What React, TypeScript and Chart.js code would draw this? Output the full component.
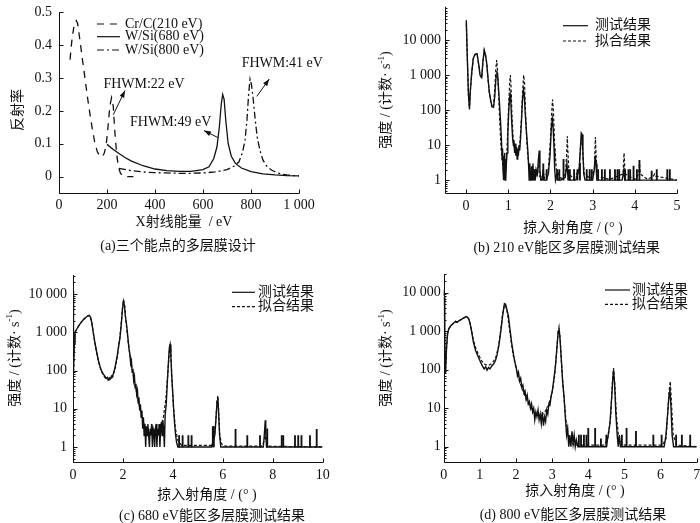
import React, { useEffect, useRef } from "react";
import { Chart, registerables } from "chart.js";

Chart.register(...registerables);

const FONT = "'Liberation Serif', 'Times New Roman', 'Noto Sans CJK SC', serif";
const INK = "#111";

type Pt = [number, number];

// ---------- (a) design: energy (eV) vs reflectivity ----------
const crcCurve: Pt[] = [
  [46, 0.356], [53, 0.41], [60, 0.447], [66, 0.468], [72, 0.475], [78, 0.465], [87, 0.416],
  [97, 0.36], [108, 0.3], [118, 0.245], [129, 0.19], [140, 0.14], [150, 0.1], [160, 0.075],
  [171, 0.062], [180, 0.06], [188, 0.07], [196, 0.092], [204, 0.15], [212, 0.215], [219, 0.24],
  [226, 0.215], [233, 0.133], [240, 0.07], [247, 0.031], [256, 0.01], [266, 0.002], [282, 0], [310, 0],
];
const wsi680Curve: Pt[] = [
  [200, 0.098], [225, 0.083], [250, 0.07], [275, 0.058], [300, 0.048], [350, 0.033], [400, 0.023],
  [450, 0.018], [500, 0.016], [550, 0.016], [600, 0.021], [625, 0.03], [645, 0.055], [658, 0.09],
  [668, 0.15], [676, 0.22], [682, 0.25], [688, 0.235], [695, 0.17], [705, 0.1], [718, 0.062],
  [735, 0.04], [760, 0.026], [800, 0.015], [850, 0.008], [900, 0.005], [950, 0.003], [1000, 0.002],
];
const wsi800Curve: Pt[] = [
  [250, 0.025], [300, 0.018], [350, 0.014], [400, 0.012], [450, 0.011], [500, 0.01], [550, 0.01],
  [600, 0.011], [650, 0.014], [700, 0.021], [730, 0.032], [750, 0.045], [765, 0.075], [775, 0.11],
  [783, 0.17], [790, 0.25], [796, 0.297], [802, 0.28], [810, 0.23], [818, 0.17], [826, 0.12],
  [837, 0.08], [850, 0.05], [865, 0.032], [885, 0.02], [907, 0.012], [930, 0.007], [950, 0.005],
  [975, 0.003], [1000, 0.002],
];
const aTicksX = [0, 200, 400, 600, 800, 1000];
const aTicksY = [0, 0.1, 0.2, 0.3, 0.4, 0.5];
const aLegend = ["Cr/C(210 eV)", "W/Si(680 eV)", "W/Si(800 eV)"];
const aNotes = [
  { text: "FHWM:22 eV", at: [185, 0.28], from: [226, 0.188], to: [275, 0.262] },
  { text: "FHWM:49 eV", at: [296, 0.165], from: [664, 0.118], to: [604, 0.14] },
  { text: "FHWM:41 eV", at: [761, 0.346], from: [824, 0.244], to: [876, 0.297] },
];

// ---------- (b) 210 eV: grazing angle (deg) vs counts/s ----------
const bMeasured: Pt[] = [
  [0.005, 37000], [0.03, 3000], [0.055, 300], [0.08, 112], [0.1, 350], [0.135, 1240], [0.17, 3000],
  [0.21, 3900], [0.26, 4100], [0.3, 2000], [0.33, 1000], [0.37, 850], [0.4, 2500], [0.43, 5200],
  [0.46, 3800], [0.49, 2150], [0.52, 800], [0.55, 330], [0.59, 170], [0.62, 124], [0.65, 120],
  [0.68, 250], [0.71, 900], [0.73, 1300], [0.75, 900], [0.77, 400], [0.79, 170], [0.82, 40],
  [0.84, 12], [0.855, 4], [0.865, 8], [0.875, 2], [0.885, 5], [0.895, 1], [0.905, 3], [0.915, 6],
  [0.925, 1], [0.935, 4], [0.945, 1], [0.955, 3], [0.97, 6], [0.99, 20], [1.01, 90], [1.03, 220],
  [1.045, 290], [1.06, 180], [1.08, 50], [1.1, 18], [1.12, 10], [1.135, 14], [1.15, 6], [1.165, 11],
  [1.18, 5], [1.195, 9], [1.21, 4], [1.225, 8], [1.24, 5], [1.255, 10], [1.27, 7], [1.29, 15],
  [1.31, 40], [1.335, 180], [1.36, 380], [1.38, 260], [1.4, 90], [1.43, 25], [1.46, 8], [1.48, 3],
  [1.495, 1], [1.51, 3], [1.525, 1.5], [1.54, 1], [1.555, 2.5], [1.57, 1], [1.585, 3], [1.6, 1],
  [1.62, 2], [1.64, 1], [1.66, 2], [1.69, 1.5], [1.715, 4], [1.735, 7], [1.75, 2], [1.77, 1],
  [1.8, 1], [1.83, 2], [1.85, 1], [1.9, 1], [1.95, 1.5], [1.99, 5], [2.02, 30], [2.045, 55],
  [2.065, 30], [2.085, 8], [2.1, 2], [2.12, 1], [2.15, 1.5], [2.18, 1], [2.25, 1], [2.35, 1.2],
  [2.39, 3], [2.41, 1.5], [2.45, 1], [2.6, 1], [2.68, 2], [2.71, 8], [2.73, 22], [2.75, 20],
  [2.77, 6], [2.79, 1.5], [2.82, 1], [3.0, 1], [3.04, 2], [3.06, 5], [3.08, 3], [3.1, 1],
  [3.7, 1], [3.74, 2], [3.76, 1], [5.0, 1],
];
const bFitted: Pt[] = [
  [0.005, 30000], [0.03, 2800], [0.055, 280], [0.08, 105], [0.1, 340], [0.135, 1200], [0.17, 2900],
  [0.21, 3800], [0.26, 4000], [0.3, 1950], [0.33, 980], [0.37, 820], [0.4, 2400], [0.43, 5000],
  [0.46, 3700], [0.49, 2100], [0.52, 780], [0.55, 320], [0.59, 160], [0.62, 115], [0.65, 130],
  [0.68, 400], [0.705, 1500], [0.725, 2700], [0.745, 1400], [0.77, 300], [0.8, 40], [0.83, 8],
  [0.87, 2.5], [0.91, 1.5], [0.95, 2.5], [0.98, 15], [1.01, 150], [1.035, 700], [1.05, 1000],
  [1.065, 500], [1.09, 60], [1.12, 12], [1.16, 6], [1.22, 5], [1.27, 9], [1.31, 50], [1.34, 350],
  [1.365, 1000], [1.385, 600], [1.41, 80], [1.44, 12], [1.48, 3], [1.55, 1.3], [1.65, 1.2],
  [1.72, 2.5], [1.74, 1.3], [1.85, 1.1], [1.95, 2], [2.0, 15], [2.03, 90], [2.05, 200], [2.07, 90],
  [2.1, 10], [2.14, 2], [2.25, 1.1], [2.36, 1.5], [2.39, 8], [2.4, 18], [2.41, 8], [2.44, 1.5],
  [2.55, 1.1], [2.68, 2], [2.72, 12], [2.745, 15], [2.77, 5], [2.8, 1.5], [2.95, 1.1], [3.04, 2],
  [3.065, 17], [3.08, 6], [3.11, 1.3], [3.4, 1.05], [3.72, 1.5], [3.745, 6], [3.77, 1.5],
  [4.0, 1.05], [4.09, 1.5], [4.11, 3], [4.13, 1.5], [4.3, 1.05], [4.44, 1.3], [4.47, 1.5],
  [4.5, 1.3], [5.0, 1],
];
const bSpikeX = [1.63, 1.83, 1.91, 2.16, 2.21, 2.31, 2.42, 2.46, 2.56, 2.64, 2.7, 2.86, 2.93, 2.98,
  3.13, 3.22, 3.29, 3.41, 3.53, 3.59, 3.63, 3.77, 3.85, 3.89, 3.97, 4.05, 4.11, 4.4, 4.52, 4.77, 4.83];
const bSpikeY = [2, 2.9, 2, 2, 2, 3.9, 2, 2, 2, 2, 3, 2, 2, 2, 2, 2, 2, 2, 2, 2, 2, 2, 2, 2, 2.5, 2,
  3.7, 1.8, 2, 2, 2];
const bTicksX = [0, 1, 2, 3, 4, 5];

// ---------- (c) 680 eV ----------
const cMeasured: Pt[] = [
  [0, 12000], [0.01, 2000], [0.02, 150], [0.03, 100], [0.05, 500], [0.08, 1000], [0.15, 1200],
  [0.22, 1450], [0.28, 1650], [0.35, 1900], [0.42, 2150], [0.5, 2400], [0.58, 2650], [0.65, 2750],
  [0.7, 2500], [0.75, 1850], [0.8, 1100], [0.88, 520], [0.95, 300], [1.01, 190], [1.08, 130],
  [1.15, 95], [1.21, 82], [1.28, 70], [1.33, 62], [1.38, 66], [1.42, 58], [1.46, 64], [1.5, 60],
  [1.54, 72], [1.58, 68], [1.62, 85], [1.67, 110], [1.72, 160], [1.77, 240], [1.82, 400],
  [1.88, 700], [1.93, 1500], [1.98, 4000], [2.02, 6500], [2.06, 5000], [2.1, 2500], [2.15, 1500],
  [2.2, 700], [2.24, 380], [2.28, 260], [2.31, 150], [2.34, 180], [2.37, 90], [2.4, 110],
  [2.43, 55], [2.46, 70], [2.49, 35], [2.52, 45], [2.55, 24], [2.58, 30], [2.61, 14], [2.64, 20],
  [2.67, 9], [2.7, 13], [2.73, 6], [2.76, 9], [2.79, 3], [2.82, 6], [2.85, 2], [2.88, 4], [2.91, 1],
  [2.94, 3.5], [2.97, 2], [3.0, 4], [3.03, 2], [3.06, 1], [3.09, 3], [3.12, 2], [3.15, 4],
  [3.18, 1], [3.21, 3], [3.24, 2.5], [3.27, 1], [3.3, 3], [3.33, 4], [3.36, 1], [3.39, 3],
  [3.42, 2], [3.45, 4], [3.48, 1], [3.51, 3], [3.54, 4.5], [3.57, 2], [3.6, 5], [3.63, 3],
  [3.66, 1], [3.69, 7], [3.73, 12], [3.77, 40], [3.81, 120], [3.86, 400], [3.89, 480], [3.92, 250],
  [3.95, 80], [3.99, 30], [4.03, 10], [4.07, 4], [4.11, 2], [4.15, 1.3], [4.2, 1], [5.55, 1],
  [5.62, 1.5], [5.68, 2], [5.73, 6], [5.77, 16], [5.8, 20], [5.83, 8], [5.87, 2], [5.92, 1],
  [7.62, 1], [7.66, 2], [7.7, 5], [7.72, 2.5], [7.75, 1], [9.99, 1],
];
const cFitted: Pt[] = [
  [0, 10000], [0.01, 1500], [0.02, 140], [0.03, 100], [0.05, 480], [0.08, 980], [0.15, 1200],
  [0.22, 1450], [0.28, 1650], [0.35, 1900], [0.42, 2150], [0.5, 2400], [0.58, 2650], [0.65, 2750],
  [0.7, 2500], [0.75, 1850], [0.8, 1100], [0.88, 520], [0.95, 290], [1.01, 180], [1.1, 110],
  [1.2, 78], [1.3, 62], [1.4, 56], [1.5, 58], [1.6, 72], [1.7, 120], [1.8, 300], [1.88, 800],
  [1.94, 2000], [1.99, 5000], [2.03, 7000], [2.07, 5000], [2.11, 2300], [2.16, 1100], [2.22, 500],
  [2.3, 200], [2.4, 85], [2.5, 38], [2.6, 18], [2.7, 9], [2.8, 5], [2.9, 3.2], [3.05, 2.4],
  [3.2, 2.2], [3.35, 2.4], [3.5, 3.2], [3.62, 6], [3.72, 18], [3.8, 90], [3.86, 350], [3.89, 500],
  [3.92, 300], [3.96, 60], [4.02, 12], [4.1, 3], [4.2, 1.5], [4.35, 1.1], [5.55, 1.1], [5.65, 1.6],
  [5.72, 5], [5.77, 16], [5.8, 22], [5.83, 10], [5.88, 2], [5.95, 1.2], [6.1, 1.05], [7.55, 1.05],
  [7.65, 1.4], [7.7, 2], [7.75, 1.3], [7.85, 1.05], [10, 1],
];
const cSpikeX = [4.25, 4.39, 4.62, 4.75, 5.6, 5.64, 6.51, 6.98, 7.49, 7.78, 8.36, 8.42, 8.89, 9.02,
  9.15, 9.49, 9.76];
const cSpikeY = [2, 2, 2, 2, 3.4, 3.4, 2.9, 2, 2, 3, 2, 2, 2, 2, 2, 2, 2.9];
const cTicksX = [0, 2, 4, 6, 8, 10];

// ---------- (d) 800 eV ----------
const dMeasured: Pt[] = [
  [0, 12000], [0.015, 8000], [0.03, 300], [0.05, 85], [0.08, 400], [0.11, 900], [0.14, 1150],
  [0.2, 1400], [0.27, 1600], [0.33, 1800], [0.37, 1700], [0.42, 1850], [0.5, 2050], [0.57, 2250],
  [0.64, 2400], [0.69, 2100], [0.73, 1600], [0.78, 900], [0.82, 530], [0.88, 320], [0.96, 210],
  [1.03, 150], [1.08, 120], [1.12, 105], [1.16, 120], [1.2, 98], [1.24, 115], [1.28, 105],
  [1.33, 125], [1.38, 140], [1.43, 170], [1.48, 250], [1.53, 450], [1.58, 1000], [1.63, 2500],
  [1.68, 5200], [1.71, 5000], [1.75, 3600], [1.79, 2500], [1.84, 1000], [1.88, 500], [1.93, 250],
  [1.97, 160], [2.01, 110], [2.04, 70], [2.07, 85], [2.1, 50], [2.13, 60], [2.16, 35], [2.19, 40],
  [2.22, 25], [2.25, 28], [2.28, 17], [2.31, 22], [2.34, 13], [2.37, 15], [2.4, 10], [2.43, 13],
  [2.46, 8], [2.49, 10], [2.52, 5], [2.55, 8], [2.58, 6], [2.61, 9], [2.64, 5], [2.67, 7],
  [2.7, 4], [2.73, 8], [2.76, 3.5], [2.79, 6], [2.82, 4.5], [2.85, 9], [2.88, 7], [2.91, 13],
  [2.94, 12], [2.97, 20], [3.01, 30], [3.05, 60], [3.09, 120], [3.13, 350], [3.17, 1000],
  [3.19, 1200], [3.22, 600], [3.26, 150], [3.29, 50], [3.33, 20], [3.37, 5], [3.4, 2], [3.43, 3],
  [3.46, 1], [3.49, 2], [3.52, 1], [3.55, 2.5], [3.58, 1.2], [3.61, 2], [3.64, 1], [3.67, 1.5],
  [3.71, 1], [4.5, 1], [4.55, 2], [4.6, 4], [4.64, 15], [4.68, 60], [4.7, 100], [4.73, 40],
  [4.76, 8], [4.8, 2], [4.83, 1], [4.86, 2], [4.89, 1], [6.1, 1], [6.15, 2], [6.19, 6], [6.23, 20],
  [6.26, 30], [6.29, 10], [6.32, 2], [6.36, 1], [7.0, 1],
];
const dFitted: Pt[] = [
  [0, 10000], [0.015, 6000], [0.03, 280], [0.05, 80], [0.08, 380], [0.11, 880], [0.14, 1150],
  [0.2, 1400], [0.27, 1600], [0.33, 1800], [0.37, 1700], [0.42, 1850], [0.5, 2050], [0.57, 2250],
  [0.64, 2400], [0.69, 2100], [0.73, 1600], [0.78, 950], [0.82, 600], [0.88, 380], [0.96, 250],
  [1.05, 170], [1.15, 135], [1.25, 130], [1.35, 150], [1.45, 220], [1.52, 420], [1.58, 1100],
  [1.63, 2800], [1.68, 4800], [1.72, 4500], [1.76, 3000], [1.8, 1600], [1.86, 600], [1.92, 250],
  [2.0, 110], [2.1, 50], [2.2, 27], [2.3, 16], [2.4, 10.5], [2.5, 8], [2.6, 6.5], [2.7, 6.5],
  [2.8, 8], [2.9, 12], [3.0, 25], [3.07, 70], [3.12, 250], [3.16, 900], [3.19, 1300], [3.22, 700],
  [3.26, 150], [3.31, 30], [3.38, 5], [3.46, 1.6], [3.6, 1.1], [4.45, 1.1], [4.55, 1.8], [4.62, 6],
  [4.67, 50], [4.7, 110], [4.73, 50], [4.78, 6], [4.85, 1.5], [5.0, 1.1], [6.05, 1.1], [6.15, 1.6],
  [6.2, 8], [6.24, 30], [6.27, 50], [6.3, 15], [6.35, 2], [6.45, 1.1], [7.0, 1],
];
const dSpikeX = [3.74, 3.8, 3.88, 3.95, 4.0, 4.19, 4.35, 4.5, 4.93, 5.06, 5.32, 5.8, 6.03, 6.43,
  6.59, 6.82];
const dSpikeY = [2, 2, 2, 2, 3, 3, 1.6, 2, 2, 3, 2.5, 2, 2, 2, 2, 2];
const dTicksX = [0, 1, 2, 3, 4, 5, 6, 7];

const logTicks = [1, 10, 100, 1000, 10000];
const fitLegend = ["测试结果", "拟合结果"];

const fmt = (v: number) => {
  const s = String(v);
  return Math.abs(v) >= 1000 ? s.replace(/\B(?=(\d{3})+(?!\d))/g, " ") : s;
};

const line = (pts: Pt[], dash: number[], width = 1.2) => ({
  type: "line" as const,
  data: pts.map(([x, y]) => ({ x, y })),
  borderColor: INK,
  borderWidth: width,
  borderDash: dash,
  pointRadius: 0,
  fill: false,
  tension: 0,
});

const spikes = (xs: number[], hs: number[]) => ({
  type: "bar" as const,
  data: xs.map((x, i) => ({ x, y: [1, hs[i]] })),
  backgroundColor: INK,
  barThickness: 1.2,
  grouped: false,
});

interface TextPart { t: string; s: number; dy: number }
interface PanelSpec {
  x: number; y: number; w: number; h: number;
  area: { l: number; r: number; t: number; b: number };
  xMin: number; xMax: number; yMin: number; yMax: number; yLog: boolean;
  xTicks: number[]; yTicks: number[]; xPad: number; yPad: number;
  datasets: () => any[];
  legend: { x0: number; x1: number; tx: number; rows: number[]; labels: string[]; dashes: number[][] };
  xTitle: { text: string; x: number; y: number };
  yTitle: { parts: TextPart[]; x: number; y: number };
  caption: { text: string; x: number; y: number };
  notes?: { text: string; at: number[]; from: number[]; to: number[] }[];
}

const countTitle: TextPart[] = [
  { t: "强度 / (计数· s", s: 14, dy: 0 },
  { t: "-1", s: 9, dy: -5 },
  { t: ")", s: 14, dy: 0 },
];
const angleTitle = "掠入射角度 / (° )";
const fitDash = [3, 2];

const specs: PanelSpec[] = [
  {
    x: 0, y: 0, w: 350, h: 260,
    area: { l: 59, r: 299, t: 12.3, b: 193 },
    xMin: 0, xMax: 1000, yMin: -0.05, yMax: 0.5, yLog: false,
    xTicks: aTicksX, yTicks: aTicksY, xPad: 4, yPad: 7,
    datasets: () => [
      line(crcCurve, [7, 6], 1.3),
      line(wsi680Curve, [], 1.3),
      line(wsi800Curve, [7, 3, 2, 3], 1.3),
    ],
    legend: { x0: 97, x1: 120, tx: 125, rows: [24, 36.7, 50], labels: aLegend, dashes: [[7, 6], [], [7, 3, 2, 3]] },
    xTitle: { text: "X射线能量  / eV", x: 184, y: 222 },
    yTitle: { parts: [{ t: "反射率", s: 14, dy: 0 }], x: 18, y: 110 },
    caption: { text: "(a)三个能点的多层膜设计", x: 178, y: 246 },
    notes: aNotes,
  },
  {
    x: 350, y: 0, w: 350, h: 260,
    area: { l: 95, r: 327, t: 6.7, b: 193.3 },
    xMin: -0.5, xMax: 5, yMin: 0.42, yMax: 90000, yLog: true,
    xTicks: bTicksX, yTicks: logTicks, xPad: 5, yPad: 4,
    datasets: () => [line(bFitted, fitDash), line(bMeasured, [], 1.4), spikes(bSpikeX, bSpikeY)],
    legend: { x0: 213, x1: 238, tx: 245, rows: [25.7, 41], labels: fitLegend, dashes: [[], fitDash] },
    xTitle: { text: angleTitle, x: 223, y: 228 },
    yTitle: { parts: countTitle, x: 36.7, y: 100 },
    caption: { text: "(b) 210 eV能区多层膜测试结果", x: 216.7, y: 248.3 },
  },
  {
    x: 0, y: 260, w: 350, h: 263,
    area: { l: 73, r: 322.7, t: 15, b: 202.3 },
    xMin: 0, xMax: 10, yMin: 0.398, yMax: 31400, yLog: true,
    xTicks: cTicksX, yTicks: logTicks, xPad: 5, yPad: 6,
    datasets: () => [line(cFitted, fitDash), line(cMeasured, [], 1.4), spikes(cSpikeX, cSpikeY)],
    legend: { x0: 232, x1: 255, tx: 258, rows: [32.3, 46.7], labels: fitLegend, dashes: [[], fitDash] },
    xTitle: { text: angleTitle, x: 207, y: 235 },
    yTitle: { parts: countTitle, x: 15, y: 98 },
    caption: { text: "(c) 680 eV能区多层膜测试结果", x: 212, y: 256 },
  },
  {
    x: 350, y: 260, w: 350, h: 263,
    area: { l: 93.7, r: 346.7, t: 14, b: 201.7 },
    xMin: 0, xMax: 7, yMin: 0.408, yMax: 30600, yLog: true,
    xTicks: dTicksX, yTicks: logTicks, xPad: 5, yPad: 3,
    datasets: () => [line(dFitted, fitDash), line(dMeasured, [], 1.4), spikes(dSpikeX, dSpikeY)],
    legend: { x0: 255, x1: 280, tx: 282, rows: [30, 44.3], labels: fitLegend, dashes: [[], fitDash] },
    xTitle: { text: angleTitle, x: 225, y: 231 },
    yTitle: { parts: countTitle, x: 36.7, y: 98 },
    caption: { text: "(d) 800 eV能区多层膜测试结果", x: 223, y: 255 },
  },
];

const decorate = (spec: PanelSpec) => ({
  id: "decorate",
  afterDraw(chart: Chart) {
    const ctx = chart.ctx;
    const a = chart.chartArea;
    const xs = chart.scales.x;
    const ys = chart.scales.y;
    ctx.save();
    ctx.strokeStyle = INK;
    ctx.fillStyle = INK;
    ctx.lineWidth = 1;
    ctx.setLineDash([]);

    // axes with inward ticks
    const L = Math.round(a.left) + 0.5;
    const B = Math.round(a.bottom) + 0.5;
    ctx.beginPath();
    ctx.moveTo(L, a.top);
    ctx.lineTo(L, B);
    ctx.lineTo(a.right + 0.5, B);
    spec.xTicks.forEach((v) => {
      const p = Math.round(xs.getPixelForValue(v)) + 0.5;
      ctx.moveTo(p, B);
      ctx.lineTo(p, B - 4);
    });
    spec.yTicks.forEach((v) => {
      const p = Math.round(ys.getPixelForValue(v)) + 0.5;
      ctx.moveTo(L, p);
      ctx.lineTo(L + 4, p);
    });
    if (spec.yLog) {
      for (let d = -1; d <= 5; d++) {
        for (let k = 2; k <= 9; k++) {
          const v = k * Math.pow(10, d);
          if (v <= spec.yMin || v >= spec.yMax) continue;
          const p = Math.round(ys.getPixelForValue(v)) + 0.5;
          ctx.moveTo(L, p);
          ctx.lineTo(L + 2, p);
        }
      }
    }
    ctx.stroke();

    const font = (s: number) => `${s}px ${FONT}`;
    ctx.textBaseline = "middle";

    // legend
    const lg = spec.legend;
    lg.rows.forEach((ry, i) => {
      ctx.beginPath();
      ctx.lineWidth = 1.2;
      ctx.setLineDash(lg.dashes[i]);
      ctx.moveTo(lg.x0, ry);
      ctx.lineTo(lg.x1, ry);
      ctx.stroke();
      ctx.setLineDash([]);
      ctx.lineWidth = 1;
      ctx.font = font(14);
      ctx.textAlign = "left";
      ctx.fillText(lg.labels[i], lg.tx, ry);
    });

    // titles
    ctx.font = font(14);
    ctx.textAlign = "center";
    ctx.fillText(spec.xTitle.text, spec.xTitle.x, spec.xTitle.y);
    ctx.fillText(spec.caption.text, spec.caption.x, spec.caption.y);

    const yt = spec.yTitle;
    ctx.save();
    ctx.translate(yt.x, yt.y);
    ctx.rotate(-Math.PI / 2);
    ctx.textAlign = "left";
    const widths = yt.parts.map((p) => {
      ctx.font = font(p.s);
      return ctx.measureText(p.t).width;
    });
    let cx = -widths.reduce((s, w) => s + w, 0) / 2;
    yt.parts.forEach((p, i) => {
      ctx.font = font(p.s);
      ctx.fillText(p.t, cx, p.dy);
      cx += widths[i];
    });
    ctx.restore();

    // annotations with arrows
    (spec.notes || []).forEach((n) => {
      ctx.font = font(14);
      ctx.textAlign = "left";
      ctx.fillText(n.text, xs.getPixelForValue(n.at[0]), ys.getPixelForValue(n.at[1]));
      const x0 = xs.getPixelForValue(n.from[0]);
      const y0 = ys.getPixelForValue(n.from[1]);
      const x1 = xs.getPixelForValue(n.to[0]);
      const y1 = ys.getPixelForValue(n.to[1]);
      const ang = Math.atan2(y1 - y0, x1 - x0);
      ctx.beginPath();
      ctx.moveTo(x0, y0);
      ctx.lineTo(x1, y1);
      ctx.stroke();
      ctx.beginPath();
      ctx.moveTo(x1, y1);
      ctx.lineTo(x1 - 7 * Math.cos(ang) + 2.5 * Math.sin(ang), y1 - 7 * Math.sin(ang) - 2.5 * Math.cos(ang));
      ctx.lineTo(x1 - 7 * Math.cos(ang) - 2.5 * Math.sin(ang), y1 - 7 * Math.sin(ang) + 2.5 * Math.cos(ang));
      ctx.closePath();
      ctx.fill();
    });

    ctx.restore();
  },
});

const Panel: React.FC<{ spec: PanelSpec }> = ({ spec }) => {
  const canvasRef = useRef<HTMLCanvasElement | null>(null);

  useEffect(() => {
    if (!canvasRef.current) return;
    const { area, w, h } = spec;
    const tickFont = { family: FONT, size: 14 };
    const chart = new Chart(canvasRef.current, {
      type: "line",
      data: { datasets: spec.datasets() },
      options: {
        responsive: false,
        animation: false,
        layout: { padding: { left: 0, top: area.t, right: w - area.r, bottom: 0 } },
        plugins: { legend: { display: false }, tooltip: { enabled: false } },
        scales: {
          x: {
            type: "linear",
            offset: false,
            min: spec.xMin,
            max: spec.xMax,
            grid: { display: false, drawTicks: false },
            border: { display: false },
            ticks: { font: tickFont, color: INK, padding: spec.xPad, maxRotation: 0, autoSkip: false, callback: (v: any) => fmt(Number(v)) },
            afterBuildTicks: (s: any) => { s.ticks = spec.xTicks.map((v) => ({ value: v })); },
            afterFit: (s: any) => { s.height = h - area.b; s.paddingLeft = 0; s.paddingRight = 0; },
          },
          y: {
            type: spec.yLog ? "logarithmic" : "linear",
            min: spec.yMin,
            max: spec.yMax,
            grid: { display: false, drawTicks: false },
            border: { display: false },
            ticks: { font: tickFont, color: INK, padding: spec.yPad, autoSkip: false, callback: (v: any) => fmt(Number(v)) },
            afterBuildTicks: (s: any) => { s.ticks = spec.yTicks.map((v) => ({ value: v })); },
            afterFit: (s: any) => { s.width = area.l; s.paddingTop = 0; s.paddingBottom = 0; },
          },
        },
      } as any,
      plugins: [decorate(spec)],
    });
    return () => chart.destroy();
  }, [spec]);

  return (
    <canvas
      ref={canvasRef}
      width={spec.w}
      height={spec.h}
      style={{ position: "absolute", left: spec.x, top: spec.y, width: spec.w, height: spec.h }}
    />
  );
};

const App: React.FC = () => (
  <div style={{ position: "fixed", left: 0, top: 0, width: 700, height: 523, background: "#fff" }}>
    {specs.map((s, i) => (
      <Panel key={i} spec={s} />
    ))}
  </div>
);

export default App;
